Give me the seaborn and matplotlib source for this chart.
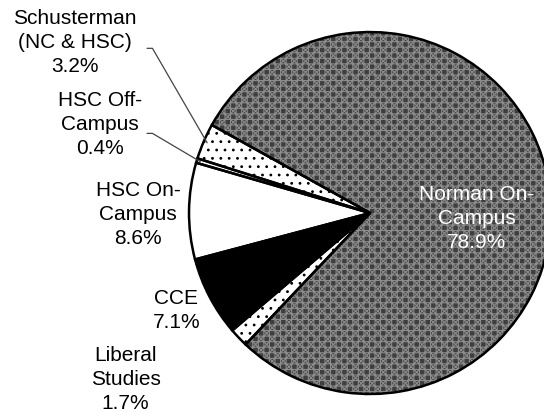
import matplotlib
matplotlib.use('Agg')
import matplotlib.pyplot as plt
import seaborn as sns
import numpy as np

sns.set_theme(style='white')
plt.rcParams['font.family'] = ['Liberation Sans', 'DejaVu Sans']
plt.rcParams['hatch.linewidth'] = 0.8

# Data
campuses = ['Schusterman\n(NC & HSC)', 'HSC Off-\nCampus', 'HSC On-\nCampus',
            'CCE', 'Liberal\nStudies', 'Norman On-\nCampus']
shares = [3.2, 0.4, 8.6, 7.1, 1.7, 78.9]

# Styles
fills = ['white', 'white', 'white', 'black', 'white', '#3e3e3e']
hatches = ['..', None, None, None, '..', '+++xxx']
hatch_colors = ['black', 'black', 'black', 'black', 'black', '#8c8c8c']

fig = plt.figure(figsize=(5.44, 4.15), dpi=100)
ax = fig.add_axes([0, 0, 1, 1])

wedges, _ = ax.pie(shares, startangle=150.9, counterclock=True,
                   colors=fills, wedgeprops=dict(linewidth=0))
for w, h, hc in zip(wedges, hatches, hatch_colors):
    if h:
        w.set_hatch(h)
        w.set_edgecolor(hc)
        w.set_linewidth(0)

# outlines on top
ax.pie(shares, startangle=150.9, counterclock=True,
       wedgeprops=dict(facecolor='none', edgecolor='black', linewidth=1.8))

# label positions (data units; 1 unit = pie radius)
label_pos = [(-1.63, 0.94), (-1.49, 0.49), (-1.28, -0.01),
             (-1.07, -0.54), (-1.35, -0.92), (0.59, -0.03)]
leader_start = {0: (-1.232, 0.91), 1: (-1.232, 0.44)}

for i, (name, val) in enumerate(zip(campuses, shares)):
    txt = f'{name}\n{val:.1f}%'
    color = 'white' if i == len(shares) - 1 else 'black'
    ax.text(*label_pos[i], txt, ha='center', va='center', fontsize=15,
            color=color, linespacing=1.33)
    if i in leader_start:
        w = wedges[i]
        mid = np.deg2rad((w.theta1 + w.theta2) / 2)
        ex, ey = 0.98 * np.cos(mid), 0.98 * np.sin(mid)
        sx, sy = leader_start[i]
        ax.plot([sx, sx + 0.03, ex], [sy, sy, ey], color='#444444', lw=0.9)

ax.set_xlim(-2.044, 0.961)
ax.set_ylim(-1.116, 1.177)
ax.axis('off')

fig.savefig('out.png', dpi=100)
